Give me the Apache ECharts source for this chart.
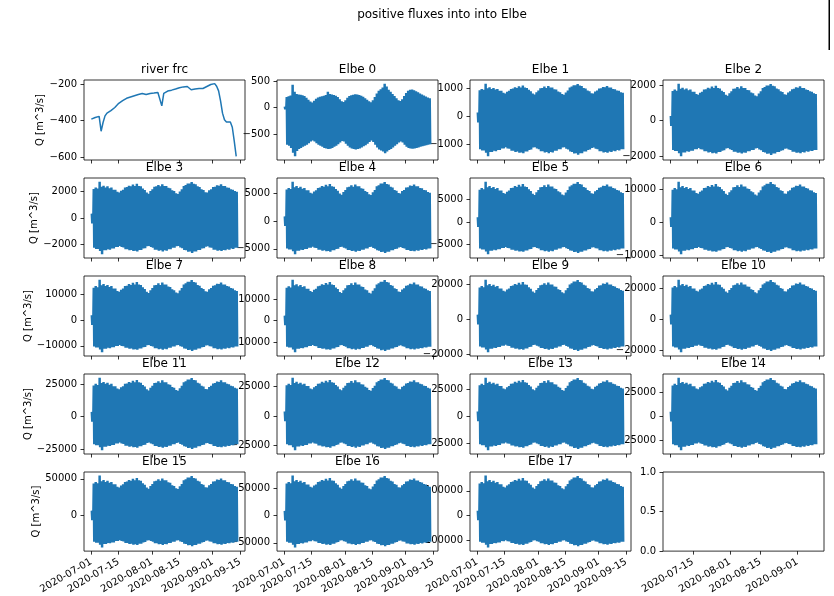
<!DOCTYPE html>
<html>
<head>
<meta charset="utf-8">
<script src="https://cdn.jsdelivr.net/npm/echarts@6/dist/echarts.min.js"></script>
<style>
  html, body { margin: 0; padding: 0; background: #fff; }
  #chart { width: 834px; height: 596px; }
</style>
</head>
<body>
<div id="chart"></div>
<script>
// ---- data -------------------------------------------------------------
const figureTitle = 'positive fluxes into into Elbe';
const panelTitles = ['river frc', 'Elbe 0', 'Elbe 1', 'Elbe 2', 'Elbe 3', 'Elbe 4', 'Elbe 5',
  'Elbe 6', 'Elbe 7', 'Elbe 8', 'Elbe 9', 'Elbe 10', 'Elbe 11', 'Elbe 12', 'Elbe 13',
  'Elbe 14', 'Elbe 15', 'Elbe 16', 'Elbe 17'];
const yAxisLabel = 'Q [m^3/s]';
const startDate = '2020-07-01';

// daily river forcing discharge, 2020-07-01 .. 2020-09-13 (m^3/s)
const riverFrc = [
  -391, -384, -382, -380, -376, -458, -410, -373, -358, -349,
  -344, -336, -327, -318, -304, -296, -289, -280, -276, -273,
  -269, -265, -262, -258, -255, -253, -249, -251, -255, -251,
  -249, -247, -247, -245, -244, -245, -318, -249, -240, -236,
  -233, -231, -227, -225, -222, -218, -215, -213, -213, -211,
  -222, -229, -222, -225, -224, -222, -224, -222, -218, -211,
  -204, -200, -198, -195, -209, -235, -290, -358, -395, -407,
  -402, -407, -436, -513, -597
];

// Elbe 0: daily flood / ebb flux extremes (m^3/s)
const elbe0Flood = [
  20, 200, 215, 230, 432, 300, 260, 250, 245, 235,
  220, 190, 150, 115, 100, 130, 170, 195, 205, 215,
  225, 240, 300, 260, 250, 240, 225, 200, 160, 120,
  110, 140, 190, 220, 235, 245, 255, 250, 240, 225,
  205, 180, 150, 120, 105, 140, 200, 270, 320, 350,
  380, 455, 400, 340, 300, 260, 220, 180, 140, 125,
  160, 220, 280, 320, 340, 345, 330, 310, 290, 270,
  250, 230, 210, 195, 180
];
const elbe0Ebb = [
  -30, -700, -720, -760, -850, -920, -820, -780, -760, -740,
  -720, -700, -670, -640, -620, -640, -670, -700, -720, -740,
  -760, -770, -780, -775, -760, -740, -720, -690, -660, -630,
  -640, -680, -720, -750, -770, -780, -790, -780, -770, -750,
  -730, -710, -680, -650, -620, -650, -700, -750, -790, -810,
  -830, -860, -830, -800, -780, -750, -720, -690, -660, -640,
  -660, -700, -740, -760, -770, -775, -770, -760, -750, -740,
  -730, -720, -710, -700, -690
];

// Elbe 1..17: daily flood / ebb envelope as a share of each section's peak
const floodShare = [
  0.12, 0.80, 0.84, 0.81, 1.00, 0.86, 0.89, 0.84, 0.87, 0.82,
  0.84, 0.78, 0.78, 0.72, 0.70, 0.75, 0.78, 0.84, 0.85, 0.89,
  0.87, 0.92, 0.88, 0.94, 0.88, 0.87, 0.81, 0.77, 0.70, 0.67,
  0.74, 0.79, 0.86, 0.87, 0.91, 0.87, 0.93, 0.88, 0.88, 0.83,
  0.82, 0.76, 0.74, 0.68, 0.66, 0.73, 0.79, 0.88, 0.91, 0.95,
  0.95, 0.99, 0.94, 0.93, 0.87, 0.85, 0.79, 0.77, 0.71, 0.70,
  0.76, 0.79, 0.85, 0.86, 0.90, 0.89, 0.93, 0.88, 0.88, 0.84,
  0.83, 0.79, 0.78, 0.74, 0.72
];
const ebbShare = [
  0.15, 0.82, 0.85, 0.85, 0.91, 1.00, 0.89, 0.89, 0.86, 0.87,
  0.84, 0.84, 0.80, 0.80, 0.77, 0.80, 0.81, 0.86, 0.86, 0.89,
  0.88, 0.91, 0.90, 0.92, 0.88, 0.88, 0.84, 0.83, 0.78, 0.77,
  0.80, 0.82, 0.87, 0.87, 0.90, 0.89, 0.92, 0.89, 0.90, 0.86,
  0.86, 0.82, 0.82, 0.78, 0.77, 0.81, 0.83, 0.88, 0.89, 0.93,
  0.92, 0.96, 0.92, 0.92, 0.88, 0.88, 0.84, 0.83, 0.79, 0.78,
  0.81, 0.82, 0.87, 0.87, 0.90, 0.89, 0.91, 0.88, 0.89, 0.86,
  0.87, 0.84, 0.85, 0.82, 0.82
];
// peak flood / ebb flux of Elbe 1..17 (m^3/s)
const peakFlood = [1174, 2073, 2756, 7093, 9058, 12244, 15625, 19020, 22780, 25900,
  29975, 32692, 35417, 40540, 54350, 74100, 161900];
const peakEbb = [-1430, -2018, -2756, -5988, -7246, -9707, -12500, -14810, -18890, -21470,
  -26000, -29120, -31548, -35470, -43900, -58800, -129700];

// y tick values per panel (river frc, Elbe 0..17, empty panel)
const yTicks = [
  [-600, -400, -200], [-500, 0, 500], [-1000, 0, 1000], [-2000, 0, 2000],
  [-2000, 0, 2000], [-5000, 0, 5000], [-5000, 0, 5000], [-10000, 0, 10000],
  [-10000, 0, 10000], [-10000, 0, 10000], [-20000, 0, 20000], [-20000, 0, 20000],
  [-25000, 0, 25000], [-25000, 0, 25000], [-25000, 0, 25000], [-25000, 0, 25000],
  [0, 50000], [-50000, 0, 50000], [-100000, 0, 100000], [0, 0.5, 1]
];
const dateTicks = ['2020-07-01', '2020-07-15', '2020-08-01', '2020-08-15', '2020-09-01', '2020-09-15'];
const emptyDateTicks = ['2020-07-15', '2020-08-01', '2020-08-15', '2020-09-01'];
const emptyRange = ['2020-07-01T04:00:00Z', '2020-09-13T06:00:00Z'];

// ---- layout -----------------------------------------------------------
const COL_LEFT = [84, 277, 470, 663];
const ROW_TOP = [80, 178, 276, 374, 472];
const PW = 161, PH = 80;
const NAME_GAP = [38, 45, 51, 51, 43];
const FONT = '"DejaVu Sans", sans-serif';
const BLUE = '#1f77b4';
const DAY = 86400000;

const toMs = s => Date.parse(s.length === 10 ? s + 'T00:00:00Z' : s);
const t0 = toMs(startDate);
const fmtDate = v => new Date(v).toISOString().slice(0, 10);
const fmtNum = v => (v < 0 ? '\u2212' + Math.abs(v) : String(v));

function riverPoints() {
  return riverFrc.map((v, d) => [t0 + d * DAY, v]);
}
// two flood and two ebb extremes per day
function tidePoints(flood, ebb) {
  const pts = [];
  for (let d = 0; d < flood.length; d++) {
    const b = t0 + d * DAY;
    pts.push([b, flood[d]], [b + 0.25 * DAY, ebb[d]],
             [b + 0.5 * DAY, flood[d]], [b + 0.75 * DAY, ebb[d]]);
  }
  return pts;
}

const panelData = [riverPoints(), tidePoints(elbe0Flood, elbe0Ebb)];
for (let k = 0; k < peakFlood.length; k++) {
  panelData.push(tidePoints(floodShare.map(s => s * peakFlood[k]),
                            ebbShare.map(s => s * peakEbb[k])));
}

// common time extent with 5% margins
let tLo = Infinity, tHi = -Infinity;
panelData.forEach(p => p.forEach(([t]) => { tLo = Math.min(tLo, t); tHi = Math.max(tHi, t); }));
const tPad = 0.05 * (tHi - tLo);

const grid = [], xAxis = [], yAxis = [], series = [], graphic = [];
for (let i = 0; i < 20; i++) {
  const r = Math.floor(i / 4), c = i % 4;
  const left = COL_LEFT[c], top = ROW_TOP[r];
  grid.push({ left, top, width: PW, height: PH, show: true, borderColor: '#000',
              borderWidth: 0.8, backgroundColor: 'transparent' });

  const isEmpty = i === 19;
  const xt = (isEmpty ? emptyDateTicks : dateTicks).map(toMs);
  const bottomRow = r === 4;
  xAxis.push({
    gridIndex: i, type: 'value',
    min: isEmpty ? toMs(emptyRange[0]) : tLo - tPad,
    max: isEmpty ? toMs(emptyRange[1]) : tHi + tPad,
    axisLine: { show: false, onZero: false },
    splitLine: { show: false },
    axisTick: { show: true, customValues: xt, length: 3.5, lineStyle: { color: '#000', width: 0.8 } },
    axisLabel: { show: bottomRow, customValues: xt, rotate: 30, margin: 10, formatter: fmtDate,
                 fontSize: 10, color: '#000', fontFamily: FONT }
  });

  let yMin, yMax;
  if (isEmpty) { yMin = 0; yMax = 1; }
  else {
    const vals = panelData[i].map(p => p[1]);
    const lo = Math.min(...vals), hi = Math.max(...vals), pad = 0.05 * (hi - lo);
    yMin = lo - pad; yMax = hi + pad;
  }
  yAxis.push({
    gridIndex: i, type: 'value', min: yMin, max: yMax,
    axisLine: { show: false, onZero: false },
    splitLine: { show: false },
    axisTick: { show: true, customValues: yTicks[i], length: 3.5, lineStyle: { color: '#000', width: 0.8 } },
    axisLabel: { customValues: yTicks[i], margin: 7, fontSize: 10, color: '#000', fontFamily: FONT,
                 formatter: isEmpty ? (v => v.toFixed(1)) : fmtNum },
    name: c === 0 ? yAxisLabel : '', nameLocation: 'middle', nameRotate: 90, nameGap: NAME_GAP[r],
    nameTextStyle: { fontSize: 10, color: '#000', fontFamily: FONT }
  });

  if (!isEmpty) {
    series.push({
      type: 'line', xAxisIndex: i, yAxisIndex: i, data: panelData[i],
      symbol: 'none', showSymbol: false, progressive: 0,
      lineStyle: { color: BLUE, width: 1.5 }, z: 2
    });
    graphic.push({ type: 'text', x: left + PW / 2, y: top - 10, silent: true,
      style: { text: panelTitles[i], fill: '#000', fontSize: 12, fontFamily: FONT,
               align: 'center', verticalAlign: 'middle' } });
  }
}
graphic.push({ type: 'text', x: 442, y: 15, silent: true,
  style: { text: figureTitle, fill: '#000', fontSize: 12, fontFamily: FONT,
           align: 'center', verticalAlign: 'middle' } });
graphic.push({ type: 'rect', shape: { x: 828.5, y: 0, width: 1.5, height: 50 }, silent: true,
  style: { fill: '#000' } });

const chart = echarts.init(document.getElementById('chart'), null, { renderer: 'canvas' });
chart.setOption({
  animation: false,
  backgroundColor: '#fff',
  textStyle: { fontFamily: FONT },
  grid, xAxis, yAxis, series, graphic
});
</script>
</body>
</html>
